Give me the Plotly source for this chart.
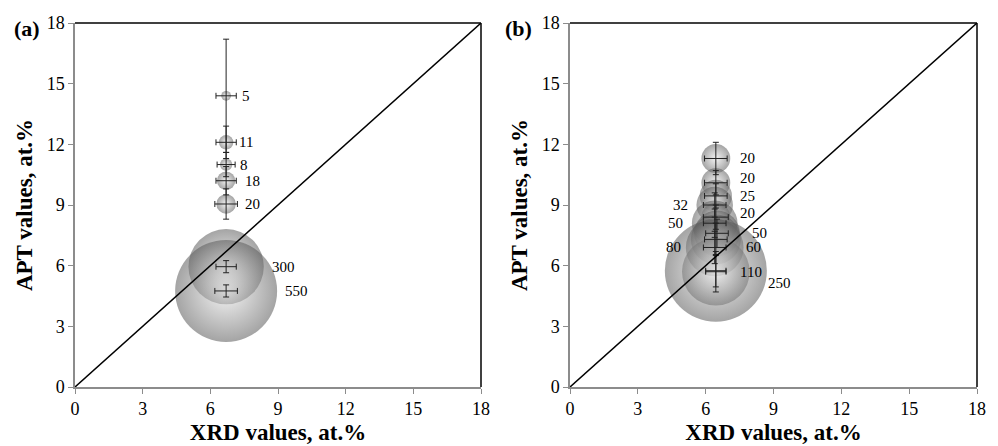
import plotly.graph_objects as go

# ---------------- data ----------------
tick_vals = [0, 3, 6, 9, 12, 15, 18]
diag = [0, 18]

# panel (a)
a_x = [6.7, 6.7, 6.7, 6.7, 6.7, 6.7, 6.7]
a_y = [14.4, 12.1, 11.0, 10.2, 9.05, 5.95, 4.75]
a_n = [5, 11, 8, 18, 20, 300, 550]
a_xerr = [0.45, 0.45, 0.4, 0.45, 0.5, 0.45, 0.5]
a_yerr = [2.8, 0.8, 0.6, 0.7, 0.75, 0.3, 0.3]

# panel (b)
b_x = [6.45, 6.45, 6.45, 6.4, 6.45, 6.4, 6.5, 6.45, 6.4, 6.45, 6.45]
b_y = [11.3, 10.1, 9.45, 9.0, 8.4, 8.1, 7.6, 7.3, 6.9, 5.7, 5.75]
b_n = [20, 20, 25, 32, 20, 50, 50, 60, 80, 110, 250]
b_xerr = [0.5, 0.5, 0.5, 0.5, 0.55, 0.5, 0.5, 0.5, 0.5, 0.45, 0.45]
b_yerr = [0.8, 0.6, 0.6, 0.6, 0.6, 0.7, 0.7, 0.8, 0.8, 1.0, 0.8]

# ---------------- label styling (pixel offsets) ----------------
a_dx = [14, 11, 12, 17, 17, 44, 57]
a_dy = [0, 0, 0, 0, 0, 0, 0]
b_dx = [22, 22, 22, -25, 22, -30, 33, 28, -32, 22, 50]
b_dy = [0, 5, 0, 0, 4, 0, 0, -8, 0, 0, -12]

SERIF = "Liberation Serif"
fig = go.Figure()


def bubbles(x, y, n, xerr, yerr, sizeref, xa, ya):
    fig.add_trace(go.Scatter(
        x=x, y=y, mode="markers", xaxis=xa, yaxis=ya, showlegend=False,
        marker=dict(size=n, sizemode="area", sizeref=sizeref,
                    color="rgb(90,90,90)", opacity=0.55,
                    gradient=dict(type="radial", color="rgb(235,235,235)"),
                    line=dict(width=0)),
    ))
    fig.add_trace(go.Scatter(
        x=x, y=y, mode="markers", xaxis=xa, yaxis=ya, showlegend=False,
        marker=dict(size=1, color="rgba(0,0,0,0)"),
        error_x=dict(type="data", array=xerr, color="#222", thickness=1, width=3),
        error_y=dict(type="data", array=yerr, color="#222", thickness=1, width=3),
    ))
    fig.add_trace(go.Scatter(x=diag, y=diag, mode="lines", xaxis=xa, yaxis=ya,
                             showlegend=False, line=dict(color="black", width=1.5)))


bubbles(a_x, a_y, a_n, a_xerr, a_yerr, 2 * 550 / 102 ** 2, "x", "y")
bubbles(b_x, b_y, b_n, b_xerr, b_yerr, 2 * 250 / 102 ** 2, "x2", "y2")

ann = []
for xs, ys, ns, dxs, dys, xr, yr in [(a_x, a_y, a_n, a_dx, a_dy, "x", "y"),
                                     (b_x, b_y, b_n, b_dx, b_dy, "x2", "y2")]:
    for x, y, n, dx, dy in zip(xs, ys, ns, dxs, dys):
        ann.append(dict(x=x, y=y, xref=xr, yref=yr, text=str(n), showarrow=False,
                        xanchor="left" if dx > 0 else "right", xshift=dx, yshift=dy,
                        font=dict(family=SERIF, size=15, color="black")))

ann.append(dict(x=0.012, y=0.986, xref="paper", yref="paper", text="<b>(a)</b>",
                showarrow=False, xanchor="left", yanchor="middle",
                font=dict(family=SERIF, size=22, color="black")))
ann.append(dict(x=0.504, y=0.986, xref="paper", yref="paper", text="<b>(b)</b>",
                showarrow=False, xanchor="left", yanchor="middle",
                font=dict(family=SERIF, size=22, color="black")))

axis_common = dict(range=[0, 18], tickvals=tick_vals, showgrid=False, zeroline=False,
                   showline=True, linecolor="#8c8c8c", linewidth=1.5,
                   ticks="outside", ticklen=5, tickcolor="#8c8c8c", tickwidth=1,
                   tickfont=dict(family=SERIF, size=18, color="black"),
                   automargin=False)
xt = dict(text="<b>XRD values, at.%</b>", font=dict(family=SERIF, size=23, color="black"), standoff=6)
yt = dict(text="<b>APT values, at.%</b>", font=dict(family=SERIF, size=23, color="black"), standoff=8)

shapes = []
for xr in ["x", "x2"]:
    shapes.append(dict(type="line", xref=xr + " domain", yref="y domain", x0=0, x1=1, y0=1, y1=1,
                       line=dict(color="black", width=1.5)))
    shapes.append(dict(type="line", xref=xr + " domain", yref="y domain", x0=1, x1=1, y0=0, y1=1,
                       line=dict(color="black", width=1.5)))

fig.update_layout(
    width=998, height=446,
    margin=dict(l=0, r=0, t=23, b=59),
    paper_bgcolor="white", plot_bgcolor="white",
    xaxis=dict(**axis_common, domain=[75 / 998, 481 / 998], anchor="y", title=xt),
    yaxis=dict(**axis_common, domain=[0, 1], anchor="x", title=yt),
    xaxis2=dict(**axis_common, domain=[570 / 998, 977 / 998], anchor="y2", title=xt),
    yaxis2=dict(**axis_common, domain=[0, 1], anchor="x2", title=yt),
    annotations=ann, shapes=shapes,
)

fig.write_html("out.html", config={"displayModeBar": False},
               post_script="document.body.style.margin='0';")
